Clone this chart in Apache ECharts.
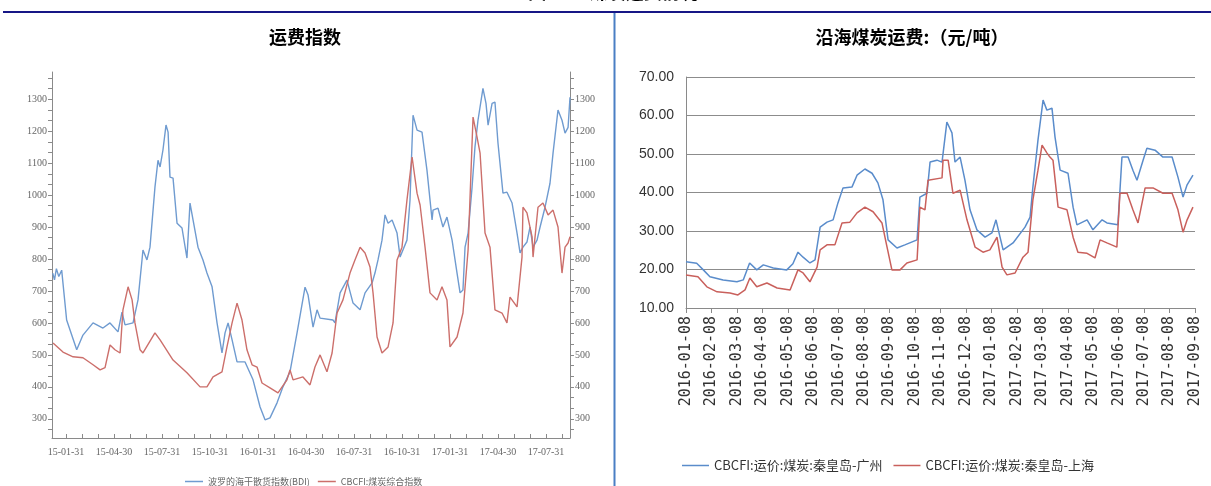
<!DOCTYPE html>
<html>
<head>
<meta charset="utf-8">
<script src="https://cdn.jsdelivr.net/npm/echarts@6/dist/echarts.min.js"></script>
<style>
  html, body { margin: 0; padding: 0; background: #fff; }
  #chart { width: 1211px; height: 486px; }
</style>
</head>
<body>
<div id="chart"></div>
<script>
// 左图：运费指数，横轴为距 15-01-31 的月数
const quarterLabels = ['15-01-31', '15-04-30', '15-07-31', '15-10-31', '16-01-31', '16-04-30',
  '16-07-31', '16-10-31', '17-01-31', '17-04-30', '17-07-31'];
const indexTicks = [300, 400, 500, 600, 700, 800, 900, 1000, 1100, 1200, 1300];

// 波罗的海干散货指数 [月, 值]
const bdi = [[-0.83,756],[-0.72,735],[-0.6,770],[-0.45,745],[-0.27,765],[0.04,609],[0.67,516],[1.06,562],
  [1.69,600],[2.31,584],[2.75,600],[3.25,572],[3.5,634],[3.69,594],[4.19,600],[4.5,672],[4.75,797],[4.81,828],
  [5.06,797],[5.25,837],[5.56,1025],[5.75,1109],[5.88,1088],[6.06,1141],[6.25,1219],[6.38,1197],[6.5,1056],
  [6.69,1053],[6.94,912],[7.25,897],[7.56,803],[7.75,975],[7.94,922],[8.25,837],[8.56,797],[8.81,756],
  [9.13,713],[9.44,600],[9.75,506],[9.94,569],[10.13,600],[10.38,547],[10.69,478],[11.19,478],[11.69,422],
  [12.13,337],[12.44,297],[12.75,303],[13.19,350],[13.56,400],[14.0,447],[14.44,569],[14.94,712],[15.13,687],
  [15.44,587],[15.69,641],[15.88,615],[16.69,609],[16.81,600],[17.13,694],[17.56,734],[17.94,662],[18.38,641],
  [18.69,694],[19.13,725],[19.31,756],[19.5,797],[19.75,859],[19.94,938],[20.13,912],[20.38,922],[20.69,881],
  [20.88,806],[21.31,859],[21.5,984],[21.69,1250],[21.94,1203],[22.25,1197],[22.56,1078],[22.88,922],
  [22.94,953],[23.25,959],[23.56,900],[23.81,931],[24.13,859],[24.44,756],[24.63,694],[24.81,703],[24.94,837],
  [25.13,881],[25.38,1025],[25.56,1150],[25.75,1234],[26.06,1334],[26.25,1287],[26.38,1219],[26.63,1287],
  [26.81,1291],[27.0,1162],[27.31,1006],[27.56,1009],[27.88,975],[28.19,881],[28.38,819],[28.56,837],
  [28.81,853],[29.0,900],[29.19,837],[29.44,859],[29.63,900],[29.94,962],[30.25,1037],[30.44,1131],
  [30.75,1266],[31.0,1234],[31.19,1194],[31.38,1212],[31.5,1306]];

// CBCFI 煤炭综合指数 [月, 值]
const cbcfi = [[-0.81,537],[-0.19,509],[0.44,494],[1.06,491],[1.69,469],[2.13,453],[2.44,460],[2.75,531],
  [3.06,516],[3.38,506],[3.56,641],[3.88,713],[4.13,672],[4.31,600],[4.63,516],[4.81,506],[5.56,569],[5.88,547],
  [6.69,484],[7.56,444],[8.38,400],[8.81,400],[9.19,431],[9.75,447],[10.06,525],[10.38,600],[10.69,662],
  [11.0,609],[11.31,516],[11.63,469],[11.94,462],[12.25,412],[12.75,397],[13.25,381],[13.81,422],[14.0,453],
  [14.19,422],[14.81,431],[15.25,406],[15.56,462],[15.88,500],[16.31,447],[16.63,506],[16.94,631],[17.31,672],
  [17.75,756],[18.06,797],[18.38,837],[18.69,819],[19.0,775],[19.19,694],[19.44,556],[19.75,506],[20.13,525],
  [20.44,600],[20.69,797],[21.0,837],[21.31,984],[21.63,1119],[21.94,1006],[22.13,969],[22.44,837],[22.75,694],
  [23.19,672],[23.5,713],[23.81,672],[24.0,525],[24.44,556],[24.81,631],[25.13,828],[25.44,1244],[25.69,1181],
  [25.88,1131],[26.19,881],[26.5,837],[26.81,641],[27.25,631],[27.56,600],[27.75,681],[28.19,650],[28.5,806],
  [28.56,962],[28.81,944],[29.13,869],[29.19,806],[29.5,962],[29.81,975],[30.13,938],[30.44,953],[30.75,900],
  [31.0,756],[31.19,837],[31.38,850],[31.5,870]];

// 右图：沿海煤炭运费，横轴为距 2016-01-08 的月数
const monthLabels = ['2016-01-08', '2016-02-08', '2016-03-08', '2016-04-08', '2016-05-08', '2016-06-08',
  '2016-07-08', '2016-08-08', '2016-09-08', '2016-10-08', '2016-11-08', '2016-12-08', '2017-01-08',
  '2017-02-08', '2017-03-08', '2017-04-08', '2017-05-08', '2017-06-08', '2017-07-08', '2017-08-08', '2017-09-08'];

// 秦皇岛-广州 [月, 元/吨]
const qhdGuangzhou = [[0,22.0],[0.42,21.6],[0.68,19.9],[0.94,18.1],[1.46,17.3],[2.0,16.8],[2.25,17.3],[2.5,21.7],
  [2.78,19.9],[3.04,21.2],[3.43,20.4],[3.96,19.9],[4.2,21.5],[4.4,24.5],[4.6,23.2],[4.87,21.7],[5.07,22.5],
  [5.27,31.0],[5.54,32.3],[5.78,32.9],[5.97,37.3],[6.17,41.2],[6.52,41.4],[6.72,44.5],[7.03,46.1],[7.31,45.0],
  [7.54,42.5],[7.74,38.1],[7.94,27.7],[8.29,25.6],[8.6,26.4],[9.08,27.7],[9.19,38.8],[9.47,39.8],[9.59,47.9],
  [9.86,48.4],[10.06,47.9],[10.25,58.3],[10.45,55.5],[10.57,47.9],[10.77,49.2],[10.96,43.2],[11.16,35.5],
  [11.43,30.3],[11.75,28.4],[12.02,29.5],[12.18,32.9],[12.34,28.4],[12.46,25.1],[12.85,26.9],[13.32,31.0],
  [13.52,33.6],[13.63,41.4],[13.83,53.6],[14.03,64.0],[14.18,61.4],[14.38,61.9],[14.5,54.4],[14.7,45.8],
  [15.01,45.0],[15.21,36.2],[15.36,31.6],[15.76,32.9],[15.99,30.3],[16.35,32.9],[16.54,32.1],[16.97,31.6],
  [17.13,49.2],[17.37,49.2],[17.56,45.8],[17.72,43.2],[17.96,48.4],[18.11,51.5],[18.43,51.0],[18.74,49.2],
  [19.1,49.2],[19.33,44.0],[19.53,38.8],[19.69,42.0],[19.92,44.5]];

// 秦皇岛-上海 [月, 元/吨]
const qhdShanghai = [[0,18.6],[0.47,18.1],[0.82,15.5],[1.22,14.2],[1.73,13.9],[2.04,13.4],[2.32,14.7],[2.51,17.8],
  [2.78,15.5],[3.18,16.5],[3.58,15.2],[4.09,14.7],[4.4,19.9],[4.6,19.1],[4.87,16.8],[5.15,20.6],[5.27,25.1],
  [5.54,26.4],[5.85,26.4],[6.13,32.1],[6.44,32.3],[6.72,34.7],[7.03,36.2],[7.35,35.0],[7.7,32.1],[7.9,25.8],
  [8.09,19.9],[8.41,19.9],[8.68,21.7],[9.08,22.5],[9.19,36.2],[9.39,35.5],[9.51,43.2],[10.06,43.8],[10.1,48.4],
  [10.3,48.4],[10.49,39.8],[10.77,40.6],[11.04,32.9],[11.36,25.8],[11.67,24.5],[11.94,25.1],[12.22,28.4],
  [12.42,20.6],[12.61,18.6],[12.93,19.1],[13.24,23.2],[13.44,24.5],[13.63,38.1],[13.83,45.8],[13.99,52.3],
  [14.18,50.3],[14.3,49.2],[14.42,48.4],[14.62,36.2],[14.97,35.5],[15.21,28.4],[15.4,24.5],[15.76,24.2],
  [16.07,23.0],[16.27,27.7],[16.54,26.9],[16.93,25.8],[17.05,39.8],[17.33,39.8],[17.56,35.5],[17.76,32.1],
  [18.04,41.2],[18.35,41.2],[18.74,39.8],[19.1,39.8],[19.33,35.5],[19.53,29.7],[19.69,32.9],[19.92,36.2]];

const chart = echarts.init(document.getElementById('chart'));

// 左图小刻度：纵轴每 33.3 一个，横轴每月一个
const indexMinorTicks = [];
for (let v = 800 / 3; v < 1385; v += 100 / 3) indexMinorTicks.push(v);
const monthTicks = [];
for (let m = 0; m <= 31; m++) monthTicks.push(m);

const serifLabel = { color: '#666', fontSize: 10, fontFamily: 'Liberation Serif' };
const grayAxis = { lineStyle: { color: '#8a8a8a', width: 1 }, onZero: false };

function indexYAxis(position) {
  return {
    gridIndex: 0,
    type: 'value',
    position: position,
    min: 240,
    max: 1385,
    axisLine: { show: true, ...grayAxis },
    axisTick: { show: true, length: 4, customValues: indexMinorTicks, lineStyle: { color: '#8a8a8a' } },
    axisLabel: { ...serifLabel, margin: 5, customValues: indexTicks, formatter: v => String(Math.round(v)) },
    splitLine: { show: false }
  };
}

const option = {
  animation: false,
  backgroundColor: '#fff',
  graphic: [
    {
      type: 'text', x: 613, y: -17,
      style: { text: '图 10：煤炭运费情况', fill: '#000', font: 'bold 18px "Noto Sans CJK SC"',
        textAlign: 'center', align: 'center', textVerticalAlign: 'top', verticalAlign: 'top' }
    },
    { type: 'line', shape: { x1: 3, y1: 12, x2: 1211, y2: 12 }, style: { stroke: '#161686', lineWidth: 2 } },
    { type: 'line', shape: { x1: 614.5, y1: 13, x2: 614.5, y2: 486 }, style: { stroke: '#4a7fc4', lineWidth: 2 } },
    {
      type: 'text', x: 305, y: 37,
      style: { text: '运费指数', fill: '#000', font: 'bold 18px "Noto Sans CJK SC"',
        textAlign: 'center', align: 'center', textVerticalAlign: 'middle', verticalAlign: 'middle' }
    },
    {
      type: 'text', x: 912, y: 37,
      style: { text: '沿海煤炭运费:（元/吨）', fill: '#000', font: 'bold 18px "Noto Sans CJK SC"',
        textAlign: 'center', align: 'center', textVerticalAlign: 'middle', verticalAlign: 'middle' }
    }
  ],
  grid: [
    { left: 52, top: 72, width: 518, height: 366 },
    { left: 686, top: 77, width: 509, height: 231 }
  ],
  legend: [
    {
      left: 180, top: 472,
      itemWidth: 18, itemHeight: 1.5, itemGap: 8, icon: 'rect',
      textStyle: { color: '#666', fontSize: 9, fontFamily: 'Noto Sans CJK SC' },
      data: ['波罗的海干散货指数(BDI)', 'CBCFI:煤炭综合指数']
    },
    {
      left: 677, top: 454,
      itemWidth: 27, itemHeight: 1.5, itemGap: 11, icon: 'rect',
      textStyle: { color: '#333', fontSize: 13, fontFamily: 'Noto Sans CJK SC' },
      data: ['CBCFI:运价:煤炭:秦皇岛-广州', 'CBCFI:运价:煤炭:秦皇岛-上海']
    }
  ],
  xAxis: [
    {
      gridIndex: 0,
      type: 'value',
      min: -0.875,
      max: 31.5,
      axisLine: { show: true, ...grayAxis },
      axisTick: { show: true, inside: true, length: 4, customValues: monthTicks, lineStyle: { color: '#8a8a8a' } },
      axisLabel: {
        ...serifLabel, margin: 9,
        customValues: quarterLabels.map((_, i) => i * 3),
        formatter: v => quarterLabels[Math.round(v / 3)] || ''
      },
      splitLine: { show: false }
    },
    {
      gridIndex: 1,
      type: 'value',
      min: 0,
      max: 20,
      interval: 1,
      axisLine: { show: true, ...grayAxis },
      axisTick: { show: true, length: 5, lineStyle: { color: '#8a8a8a' } },
      axisLabel: {
        rotate: 90, margin: 8, color: '#333', fontSize: 15, fontFamily: 'DejaVu Sans Mono',
        formatter: v => monthLabels[Math.round(v)] || ''
      },
      splitLine: { show: false }
    }
  ],
  yAxis: [
    indexYAxis('left'),
    indexYAxis('right'),
    {
      gridIndex: 1,
      type: 'value',
      min: 10,
      max: 70,
      interval: 10,
      axisLine: { show: true, ...grayAxis },
      axisTick: { show: false },
      axisLabel: { color: '#333', fontSize: 14, fontFamily: 'Liberation Sans', margin: 12, formatter: v => v.toFixed(2) },
      splitLine: { show: true, lineStyle: { color: '#8c8c8c', width: 1.2 } }
    }
  ],
  series: [
    {
      name: '波罗的海干散货指数(BDI)', type: 'line', xAxisIndex: 0, yAxisIndex: 0,
      data: bdi, symbol: 'none', color: '#6f9bd0', lineStyle: { width: 1.4 }
    },
    {
      name: 'CBCFI:煤炭综合指数', type: 'line', xAxisIndex: 0, yAxisIndex: 0,
      data: cbcfi, symbol: 'none', color: '#cc6f6b', lineStyle: { width: 1.4 }
    },
    {
      name: 'CBCFI:运价:煤炭:秦皇岛-广州', type: 'line', xAxisIndex: 1, yAxisIndex: 2,
      data: qhdGuangzhou, symbol: 'none', color: '#5a8ccb', lineStyle: { width: 1.5 }
    },
    {
      name: 'CBCFI:运价:煤炭:秦皇岛-上海', type: 'line', xAxisIndex: 1, yAxisIndex: 2,
      data: qhdShanghai, symbol: 'none', color: '#c9605c', lineStyle: { width: 1.5 }
    }
  ]
};

chart.setOption(option);
</script>
</body>
</html>
